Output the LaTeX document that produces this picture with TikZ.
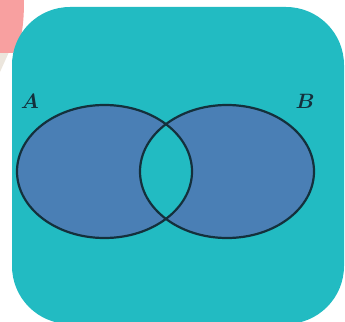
\documentclass[tikz,border=0pt]{standalone}
\usepackage{xcolor,tikz,bm}
\usetikzlibrary{positioning,calc}
\definecolor{teal}{HTML}{22BBC2}
\definecolor{setblue}{HTML}{4A7FB5}
\definecolor{outline}{HTML}{14303C}
\definecolor{rose}{HTML}{F8A0A0}
\definecolor{beige}{HTML}{ECE6DD}

\begin{document}
\begin{tikzpicture}[x=1pt,y=-1pt,every node/.style={font=\fontsize{20}{24}\selectfont,text=outline,inner sep=0pt}]
\useasboundingbox (0,0) rectangle (345,321);
\clip (0,0) rectangle (345,321);
\fill[beige] (0,52)--(9,52)--(0,72)--cycle;
\fill[rose] (0,0)--(24,0) .. controls (24,28) and (21,44) .. (13,53)--(0,53)--cycle;
\fill[teal,rounded corners=58pt] (12,7) rectangle (344,324);
\fill[setblue,even odd rule] (104.5,171.5) ellipse [x radius=87.5,y radius=66.5] (227,171.5) ellipse [x radius=87,y radius=66.5];
\draw[outline,line width=2.2pt] (104.5,171.5) ellipse [x radius=87.5,y radius=66.5];
\draw[outline,line width=2.2pt] (227,171.5) ellipse [x radius=87,y radius=66.5];
\node (setA) at (30,101) {$\bm{A}$};
\node (setB) at (305,101) {$\bm{B}$};
\end{tikzpicture}
\end{document}
